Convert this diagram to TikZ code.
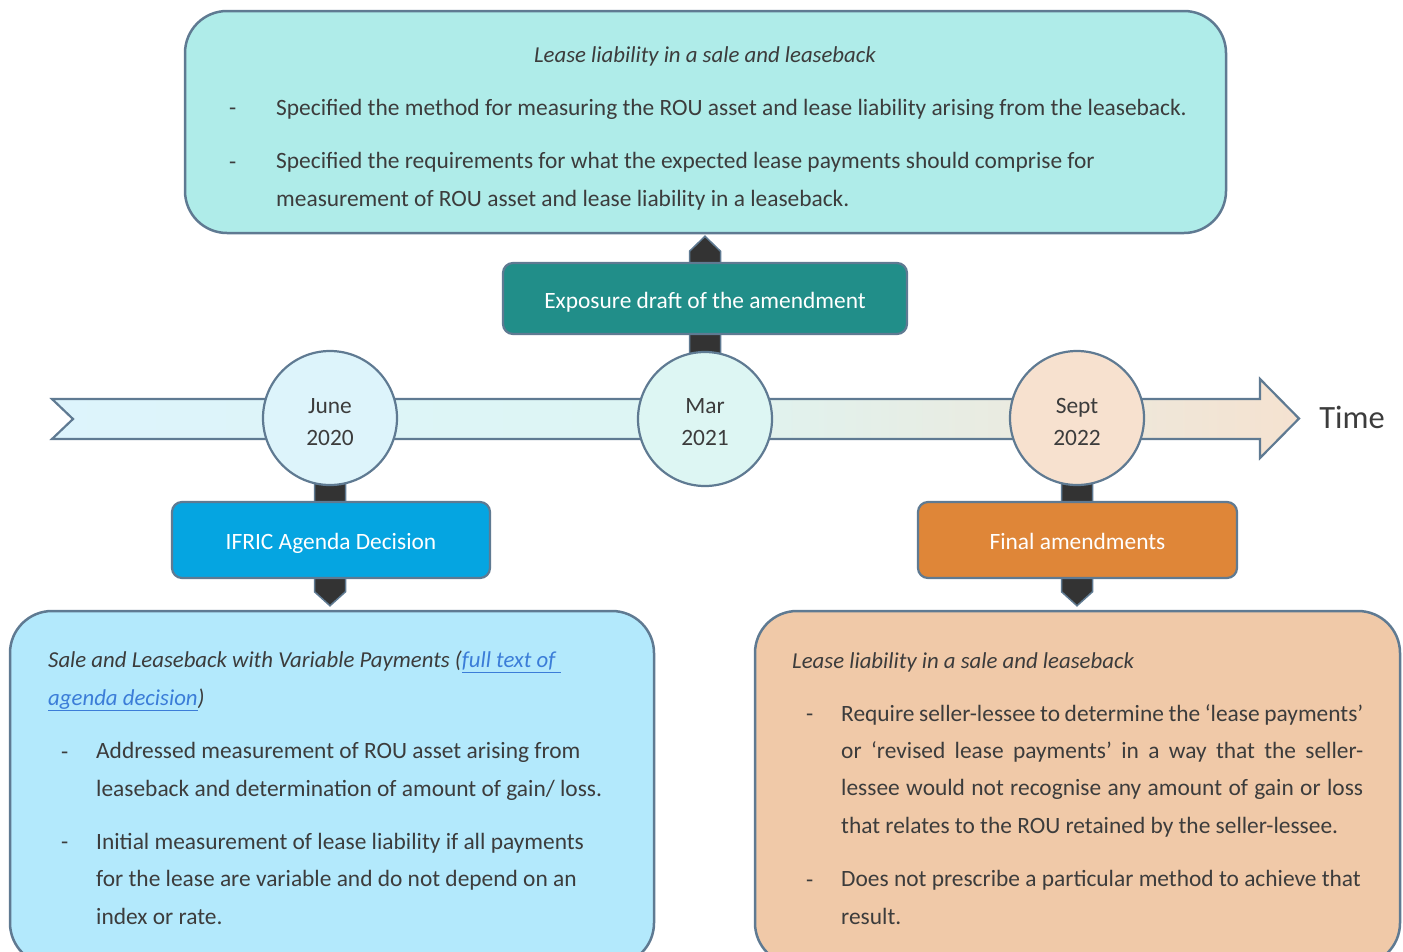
\documentclass[tikz,border=0pt]{standalone}
\usepackage{fontspec}
\setmainfont{Carlito}
\usetikzlibrary{calc}
\definecolor{txt}{HTML}{3C3C3C}
\definecolor{edge}{HTML}{5F7A92}
\definecolor{topfill}{HTML}{AFECE9}
\definecolor{leftfill}{HTML}{B3E9FC}
\definecolor{rightfill}{HTML}{F0C9A8}
\definecolor{tealfill}{HTML}{218E89}
\definecolor{ifricfill}{HTML}{05A5E1}
\definecolor{finalfill}{HTML}{DF8638}
\definecolor{junefill}{HTML}{DDF4FB}
\definecolor{marfill}{HTML}{DDF6F3}
\definecolor{septfill}{HTML}{F7E1CF}
\definecolor{linkcol}{HTML}{3B7DD8}
\definecolor{barcol}{HTML}{333333}
\definecolor{bandleft}{HTML}{DDF4FC}
\definecolor{bandmid}{HTML}{DDF5F3}
\definecolor{bandright}{HTML}{F5E2D0}
\tikzset{
  bigbox/.style={draw=edge, line width=2.5pt, rounded corners=42pt, inner sep=0pt},
  smallbox/.style={draw=edge, line width=2.2pt, rounded corners=10pt, inner sep=0pt, text=white,
    font=\fontsize{23.4}{28}\selectfont, text height=19pt, text depth=0pt},
  datecirc/.style={circle, draw=edge, line width=2.2pt, minimum size=134pt, inner sep=0pt},
  datetext/.style={inner sep=0pt, text=txt, align=center, font=\fontsize{23.4}{32}\selectfont},
  conn/.style={fill=barcol, draw=edge, line width=1.5pt, line join=miter},
  band/.style={draw=edge, line width=2.2pt, left color=bandleft, right color=bandright, middle color=bandmid},
  body/.style={text=txt, inner sep=0pt, align=left, font=\fontsize{23.4}{37.3}\selectfont},
  ttl/.style={text=txt, inner sep=0pt, align=left, font=\fontsize{22.8}{37.3}\selectfont\itshape},
  dashmark/.style={text=txt, inner sep=0pt, font=\fontsize{23.4}{37.3}\selectfont}
}
\begin{document}
\begin{tikzpicture}[x=1pt,y=-1pt]
\useasboundingbox (0,0) rectangle (1403,951);

% timeline band
\draw[band] (52,399) -- (1260,399) -- (1260,379) -- (1299,418.5) -- (1260,458) -- (1260,439) -- (52,439) -- (73,419) -- cycle;
\node[text=txt, inner sep=0pt, font=\fontsize{32.5}{38}\selectfont] (time) at (1352,417) {Time};

% content boxes
\node[bigbox, fill=topfill, minimum width=1041pt, minimum height=222pt] (topbox) at (705.5,122) {};
\node[bigbox, fill=leftfill, minimum width=644pt, minimum height=354pt] (leftbox) at (332,788) {};
\node[bigbox, fill=rightfill, minimum width=645pt, minimum height=354pt] (rightbox) at (1077.5,788) {};

% date circle centres
\coordinate (junec) at (330,418);
\coordinate (marc) at (705,419);
\coordinate (septc) at (1077,418);

% connectors
\draw[conn] ($(marc)+(-15.5,0)$) -- ($(topbox.south -| marc)+(-15.5,17)$) -- ($(topbox.south -| marc)+(0,2)$)
  -- ($(topbox.south -| marc)+(15.5,17)$) -- ($(marc)+(15.5,0)$) -- cycle;
\draw[conn] ($(junec)+(-15.5,0)$) -- ($(leftbox.north -| junec)+(-15.5,-18)$) -- ($(leftbox.north -| junec)+(0,-4)$)
  -- ($(leftbox.north -| junec)+(15.5,-18)$) -- ($(junec)+(15.5,0)$) -- cycle;
\draw[conn] ($(septc)+(-15.5,0)$) -- ($(rightbox.north -| septc)+(-15.5,-18)$) -- ($(rightbox.north -| septc)+(0,-4)$)
  -- ($(rightbox.north -| septc)+(15.5,-18)$) -- ($(septc)+(15.5,0)$) -- cycle;

% circles
\node[datecirc, fill=junefill] (june) at (junec) {};
\node[datecirc, fill=marfill] (mar) at (marc) {};
\node[datecirc, fill=septfill] (sept) at (septc) {};
\node[datetext] (junet) at (330,422) {June\\2020};
\node[datetext] (mart) at (705,422) {Mar\\2021};
\node[datetext] (septt) at (1077,422) {Sept\\2022};

% event boxes
\node[smallbox, fill=tealfill, minimum width=404pt, minimum height=71pt] (expo) at (705,298.5) {Exposure draft of the amendment};
\node[smallbox, fill=ifricfill, minimum width=318pt, minimum height=76pt] (ifric) at (331,540) {IFRIC Agenda Decision};
\node[smallbox, fill=finalfill, minimum width=319pt, minimum height=76pt] (final) at (1077.5,540) {Final amendments};

% top box text
\node[ttl, anchor=base] (toptitle) at (705,62) {Lease liability in a sale and leaseback};
\node[dashmark, anchor=base west] (td1) at (229,115) {-};
\node[body, anchor=base west] (tt1) at (276,115) {Specified the method for measuring the ROU asset and lease liability arising from the leaseback.};
\node[dashmark, anchor=base west] (td2) at (229,169) {-};
\node[body, anchor=base west] (tt2) at (276,206) {Specified the requirements for what the expected lease payments should comprise for\\measurement of ROU asset and lease liability in a leaseback.};

% left box text
\node[ttl, anchor=base west] (lefttitle) at (48,705) {Sale and Leaseback with Variable Payments (\textcolor{linkcol}{\underline{full text of\ }}\\\textcolor{linkcol}{\underline{agenda decision}})};
\node[dashmark, anchor=base west] (ld1) at (61,759) {-};
\node[body, anchor=base west] (lt1) at (96,796) {Addressed measurement of ROU asset arising from\\leaseback and determination of amount of gain/ loss.};
\node[dashmark, anchor=base west] (ld2) at (61,849) {-};
\node[body, anchor=base west] (lt2) at (96,924) {Initial measurement of lease liability if all payments\\for the lease are variable and do not depend on an\\index or rate.};

% right box text
\node[ttl, anchor=base west] (righttitle) at (792,668) {Lease liability in a sale and leaseback};
\node[dashmark, anchor=base west] (rd1) at (806,721) {-};
\node[body, anchor=base west] (rt1) at (841,833) {\makebox[522pt][s]{Require seller-lessee to determine the ‘lease payments’}\\\makebox[522pt][s]{or ‘revised lease payments’ in a way that the seller-}\\\makebox[522pt][s]{lessee would not recognise any amount of gain or loss}\\that relates to the ROU retained by the seller-lessee.};
\node[dashmark, anchor=base west] (rd2) at (806,887) {-};
\node[body, anchor=base west] (rt2) at (841,924) {Does not prescribe a particular method to achieve that\\result.};
\end{tikzpicture}
\end{document}
